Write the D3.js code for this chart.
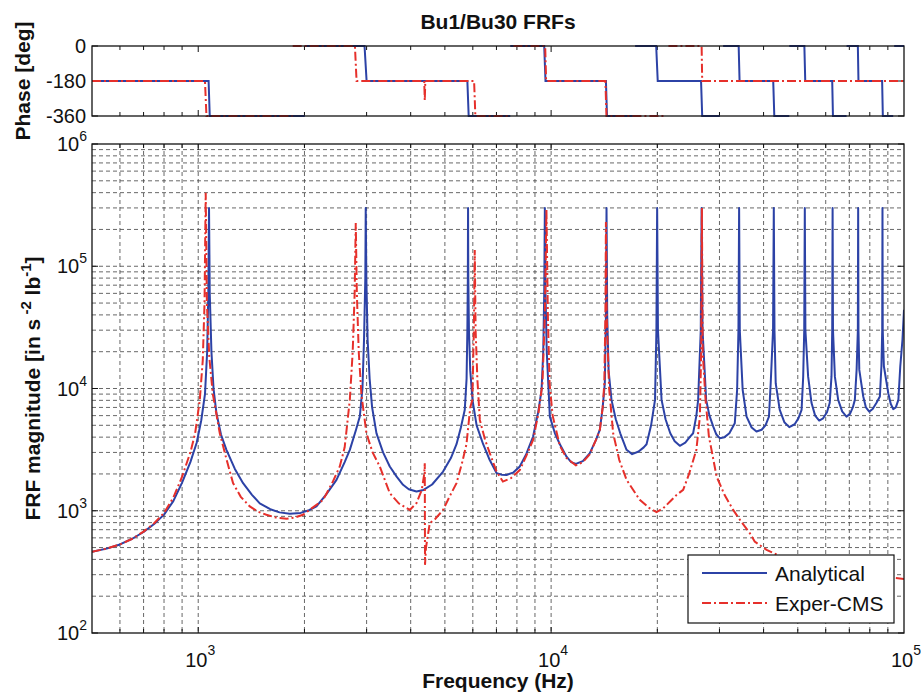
<!DOCTYPE html>
<html>
<head>
<meta charset="utf-8">
<script src="https://cdn.jsdelivr.net/npm/d3@7"></script>
<style>
  body { margin: 0; background: #fff; }
  text { font-family: "Liberation Sans", Arial, Helvetica, sans-serif; fill: #111; }
</style>
</head>
<body>
<div id="chart"></div>
<script>
// ---- data ----
// magnitude, analytical model
const anaMagF = [500,550,600,650,700,750,800,850,900,950,990,1020,1045,1060,1068,1073,1078,1090,1105,1126,1160,1202,1270,1340,1420,1494,1600,1700,1817,1950,2060,2163,2300,2465,2600,2689,2800,2870,2920,2950,2975,2983,2995,3020,3060,3110,3200,3340,3490,3650,3805,3950,4154,4350,4600,4942,5200,5394,5550,5693,5760,5790,5808,5816,5826,5850,5900,5990,6150,6418,6700,7003,7250,7474,7800,8150,8500,8891,9200,9395,9500,9560,9600,9640,9720,9918,10250,10587,11060,11400,11750,12300,12875,13400,13745,14000,14196,14300,14355,14420,14550,14830,15250,15700,16360,16965,17700,18300,18640,19200,19700,19880,19975,20080,20560,21100,21760,22400,23160,24000,24700,25260,25800,26100,26550,26700,26860,27500,28100,28790,29400,30060,31000,32000,33150,33660,33950,34100,34250,34900,35800,37000,38190,39500,40500,41430,41900,42550,42760,42950,43300,44450,45800,47300,49000,50200,51260,51800,52150,52350,52550,53500,54700,56000,57500,59000,60500,61580,62300,62600,62760,62920,63700,65080,66800,68700,70300,71600,72560,73400,74000,74150,74300,74700,76650,78000,79700,81500,83500,85440,86300,86750,86900,87050,87700,90250,91700,93200,94800,96400,97600,99000,100000];
const anaMagV = [462,490,530,590,670,780,930,1200,1700,2500,3600,5500,9000,20000,60000,300000,60000,20000,10000,6300,4200,3150,2200,1680,1350,1150,1030,970,944,960,1010,1084,1350,1790,2500,3150,4600,5900,10000,25000,80000,300000,80000,25000,12000,7000,4300,3000,2300,1900,1630,1500,1436,1480,1640,2090,2700,3500,4800,6700,12000,30000,80000,300000,80000,30000,14000,8000,5000,3500,2600,2033,1970,1963,2050,2300,2900,4050,6500,9750,20000,60000,300000,60000,20000,5890,4300,3500,2770,2500,2415,2550,2958,3800,4600,7000,11000,40000,300000,40000,14000,8070,5600,4300,3150,2905,3050,3300,3500,5000,8070,30000,300000,30000,8070,5600,4305,3700,3397,3600,4000,4305,6000,8070,30000,300000,30000,8070,6000,4900,4200,3925,4000,4300,5200,9750,30000,300000,30000,9750,5890,4800,4448,4600,5000,5890,11000,30000,300000,30000,11000,6680,5300,4830,5100,5700,6680,12500,30000,300000,30000,12500,7600,6000,5470,5700,6400,7600,12500,30000,300000,30000,12500,8070,6500,5890,6200,7000,8070,14200,30000,300000,30000,14200,8600,7000,6473,6800,7600,8600,15200,30000,300000,30000,15200,9150,7500,6774,7000,8070,15200,25000,44000];

// magnitude, experimental (CMS)
const expMagF = [500,550,600,650,700,750,800,850,900,950,980,1010,1030,1042,1050,1058,1075,1100,1151,1200,1255,1320,1400,1480,1560,1660,1780,1880,1981,2100,2259,2400,2518,2600,2689,2740,2775,2795,2815,2850,2900,2996,3120,3270,3490,3700,3976,4154,4300,4370,4385,4392,4420,4530,4700,4942,5150,5394,5600,5756,5900,5982,6040,6076,6110,6180,6280,6500,6702,7000,7300,7700,8150,8500,8891,9200,9450,9600,9700,9790,9900,10100,10587,11060,11750,12300,12875,13400,13745,14000,14150,14250,14300,14370,14600,14990,15600,16360,17830,19000,19900,20800,21800,22700,23670,24600,25800,26400,26620,26750,26880,27400,28000,28480,29440,31000,32800,34500,36550,37750,40800,45000,55000,70000,85000,100000];
const expMagV = [462,490,530,590,675,790,960,1280,1900,3000,4300,8000,17000,50000,400000,50000,18000,9000,4305,2700,1683,1300,1084,980,927,880,859,880,927,1050,1228,1700,2300,3300,8070,20000,60000,226000,60000,20000,9000,4305,3000,2300,1393,1150,1016,1153,1483,2000,2450,361,500,792,860,1016,1300,1683,2500,3500,7000,8070,30000,136000,30000,12000,5535,3800,2958,2100,1733,1850,2150,2800,3800,6200,11000,40000,290000,40000,11000,6000,3400,2700,2350,2500,2900,3800,4600,7000,11000,40000,230000,40000,10000,4305,2600,1791,1228,1050,975,1050,1200,1350,1483,2000,3150,5890,20000,300000,20000,8000,4045,3150,1905,1350,1016,820,657,560,478,420,360,310,290,277];

// phase [deg]; null = break in the trace
const anaPhF = [500,1070,1078,2004,null,2004,2960,3000,5790,5840,7660,null,7660,9560,9640,14300,14400,17050,null,17300,19850,20050,26600,26800,30060,null,30720,34000,34200,42600,42900,47300,null,47300,52200,52500,62600,62900,68740,null,68740,74000,74300,86700,87100,93200,null,93800,100000];
const anaPhV = [-180,-180,-360,-360,null,0,0,-180,-180,-360,-360,null,0,0,-180,-180,-360,-360,null,0,0,-180,-180,-360,-360,null,0,0,-180,-180,-360,-360,null,0,0,-180,-180,-360,-360,null,0,0,-180,-180,-360,-360,null,0,0];
const expPhF = [500,1045,1055,1852,null,1852,2780,2810,4370,4385,4400,6050,6100,7660,null,7820,9620,9680,14250,14350,20990,null,21500,26700,26800,100000];
const expPhV = [-180,-180,-360,-360,null,0,0,-180,-180,-280,-180,-180,-360,-360,null,0,0,-180,-180,-360,-360,null,0,0,-180,-180];

const xMinor = [600,700,800,900,1000,2000,3000,4000,5000,6000,7000,8000,9000,10000,20000,30000,40000,50000,60000,70000,80000,90000];
const xDecades = [3, 4, 5];
const yDecades = [2, 3, 4, 5, 6];
const phaseTicks = [0, -180, -360];
const seriesNames = ["Analytical", "Exper-CMS"];

// ---- layout ----
const width = 921, height = 699;
const left = 92, right = 904;
const phTop = 46, phBottom = 116;
const magTop = 144, magBottom = 633;
const blue = "#2c42a6", red = "#e6302b";
const redDash = "9,3,2,3";

const svg = d3.select("#chart").append("svg")
  .attr("width", width)
  .attr("height", height);

const x = d3.scaleLog().domain([500, 1e5]).range([left, right]);
const yMag = d3.scaleLog().domain([100, 1e6]).range([magBottom, magTop]);
const yPh = d3.scaleLinear().domain([-360, 0]).range([phBottom, phTop]);

const zip = (fs, vs) => fs.map((f, i) => [f, vs[i]]);

// clip paths
const defs = svg.append("defs");
defs.append("clipPath").attr("id", "clipMag").append("rect")
  .attr("x", left).attr("y", magTop).attr("width", right - left).attr("height", magBottom - magTop);
defs.append("clipPath").attr("id", "clipPh").append("rect")
  .attr("x", left).attr("y", phTop - 2).attr("width", right - left).attr("height", phBottom - phTop + 4);

// ---- magnitude grid ----
const yGrid = [];
for (let e = 2; e < 6; e++) for (let m = 1; m < 10; m++) yGrid.push(m * Math.pow(10, e));
const grid = svg.append("g").attr("stroke", "#222").attr("stroke-width", 0.8)
  .attr("stroke-dasharray", "4,3").attr("opacity", 0.85);
grid.selectAll(".gx").data(xMinor).join("line")
  .attr("x1", d => x(d)).attr("x2", d => x(d))
  .attr("y1", magTop).attr("y2", magBottom);
grid.selectAll(".gy").data(yGrid.slice(1)).join("line")
  .attr("x1", left).attr("x2", right)
  .attr("y1", d => yMag(d)).attr("y2", d => yMag(d));

// ---- ticks (inside, both sides) ----
const isDecade = d => Math.abs(Math.log10(d) - Math.round(Math.log10(d))) < 1e-9;
function xTicks(yPos, dir) {
  svg.append("g").selectAll("line").data(xMinor).join("line")
    .attr("x1", d => x(d)).attr("x2", d => x(d))
    .attr("y1", yPos).attr("y2", d => yPos + dir * (isDecade(d) ? 6 : 4))
    .attr("stroke", "#111").attr("stroke-width", 1);
}
xTicks(phTop, 1); xTicks(phBottom, -1);
xTicks(magTop, 1); xTicks(magBottom, -1);

svg.append("g").selectAll("line").data(phaseTicks.flatMap(p => [[p, left, 1], [p, right, -1]])).join("line")
  .attr("x1", d => d[1]).attr("x2", d => d[1] + d[2] * 6)
  .attr("y1", d => yPh(d[0])).attr("y2", d => yPh(d[0]))
  .attr("stroke", "#111");
svg.append("g").selectAll("line").data(yDecades.flatMap(e => [[e, left, 1], [e, right, -1]])).join("line")
  .attr("x1", d => d[1]).attr("x2", d => d[1] + d[2] * 6)
  .attr("y1", d => yMag(Math.pow(10, d[0]))).attr("y2", d => yMag(Math.pow(10, d[0])))
  .attr("stroke", "#111");

// ---- curves ----
const magLine = d3.line().x(d => x(d[0])).y(d => yMag(d[1]));
const phLine = d3.line().defined(d => d[0] != null && d[1] != null)
  .x(d => x(d[0])).y(d => yPh(d[1]));

const magG = svg.append("g").attr("clip-path", "url(#clipMag)").attr("fill", "none");
magG.append("path").datum(zip(anaMagF, anaMagV))
  .attr("d", magLine).attr("stroke", blue).attr("stroke-width", 2).attr("stroke-linejoin", "round");
magG.append("path").datum(zip(expMagF, expMagV))
  .attr("d", magLine).attr("stroke", red).attr("stroke-width", 2).attr("stroke-dasharray", redDash);

const phG = svg.append("g").attr("clip-path", "url(#clipPh)").attr("fill", "none");
phG.append("path").datum(zip(anaPhF, anaPhV))
  .attr("d", phLine).attr("stroke", blue).attr("stroke-width", 2);
phG.append("path").datum(zip(expPhF, expPhV))
  .attr("d", phLine).attr("stroke", red).attr("stroke-width", 2).attr("stroke-dasharray", redDash);

// ---- frames ----
[[phTop, phBottom], [magTop, magBottom]].forEach(([t, b]) => {
  svg.append("rect").attr("x", left).attr("y", t)
    .attr("width", right - left).attr("height", b - t)
    .attr("fill", "none").attr("stroke", "#111").attr("stroke-width", 1.3);
});

// ---- tick labels ----
svg.append("g").selectAll("text").data(phaseTicks).join("text")
  .attr("x", left - 6).attr("y", d => yPh(d) + 7)
  .attr("text-anchor", "end").style("font-size", "20px")
  .text(d => d);

const yLab = svg.append("g").selectAll("text").data(yDecades).join("text")
  .attr("x", left - 5).attr("y", d => yMag(Math.pow(10, d)) + 7)
  .attr("text-anchor", "end").style("font-size", "20px");
yLab.append("tspan").text("10");
yLab.append("tspan").attr("dy", -10).style("font-size", "14px").text(d => d);

const xLab = svg.append("g").selectAll("text").data(xDecades).join("text")
  .attr("x", d => x(Math.pow(10, d)) + 2).attr("y", magBottom + 34)
  .attr("text-anchor", "middle").style("font-size", "20px");
xLab.append("tspan").text("10");
xLab.append("tspan").attr("dy", -12).style("font-size", "14px").text(d => d);

// ---- titles ----
svg.append("text").attr("x", (left + right) / 2).attr("y", 29)
  .attr("text-anchor", "middle").style("font-size", "21px").style("font-weight", "bold")
  .text("Bu1/Bu30 FRFs");
svg.append("text").attr("x", (left + right) / 2).attr("y", 688)
  .attr("text-anchor", "middle").style("font-size", "21px").style("font-weight", "bold")
  .text("Frequency (Hz)");
svg.append("text").attr("transform", `translate(30,${(phTop + phBottom) / 2}) rotate(-90)`)
  .attr("text-anchor", "middle").style("font-size", "21px").style("font-weight", "bold")
  .text("Phase [deg]");
const magLabel = svg.append("text")
  .attr("transform", `translate(40,${(magTop + magBottom) / 2}) rotate(-90)`)
  .attr("text-anchor", "middle").style("font-size", "21px").style("font-weight", "bold");
magLabel.append("tspan").text("FRF magnitude [in s");
magLabel.append("tspan").attr("dy", -9).style("font-size", "15px").text(" -2");
magLabel.append("tspan").attr("dy", 9).text(" lb");
magLabel.append("tspan").attr("dy", -9).style("font-size", "15px").text("-1");
magLabel.append("tspan").attr("dy", 9).text("]");

// ---- legend ----
const legend = svg.append("g");
legend.append("rect").attr("x", 688).attr("y", 555).attr("width", 206).attr("height", 68)
  .attr("fill", "#fff").attr("stroke", "#111").attr("stroke-width", 1.2);
const legStyles = [{ c: blue, dash: null }, { c: red, dash: redDash }];
seriesNames.forEach((name, i) => {
  const yy = 573 + i * 30;
  legend.append("line").attr("x1", 702).attr("x2", 767).attr("y1", yy).attr("y2", yy)
    .attr("stroke", legStyles[i].c).attr("stroke-width", 2)
    .attr("stroke-dasharray", legStyles[i].dash);
  legend.append("text").attr("x", 775).attr("y", yy + 8)
    .style("font-size", "21px").text(name);
});
</script>
</body>
</html>
